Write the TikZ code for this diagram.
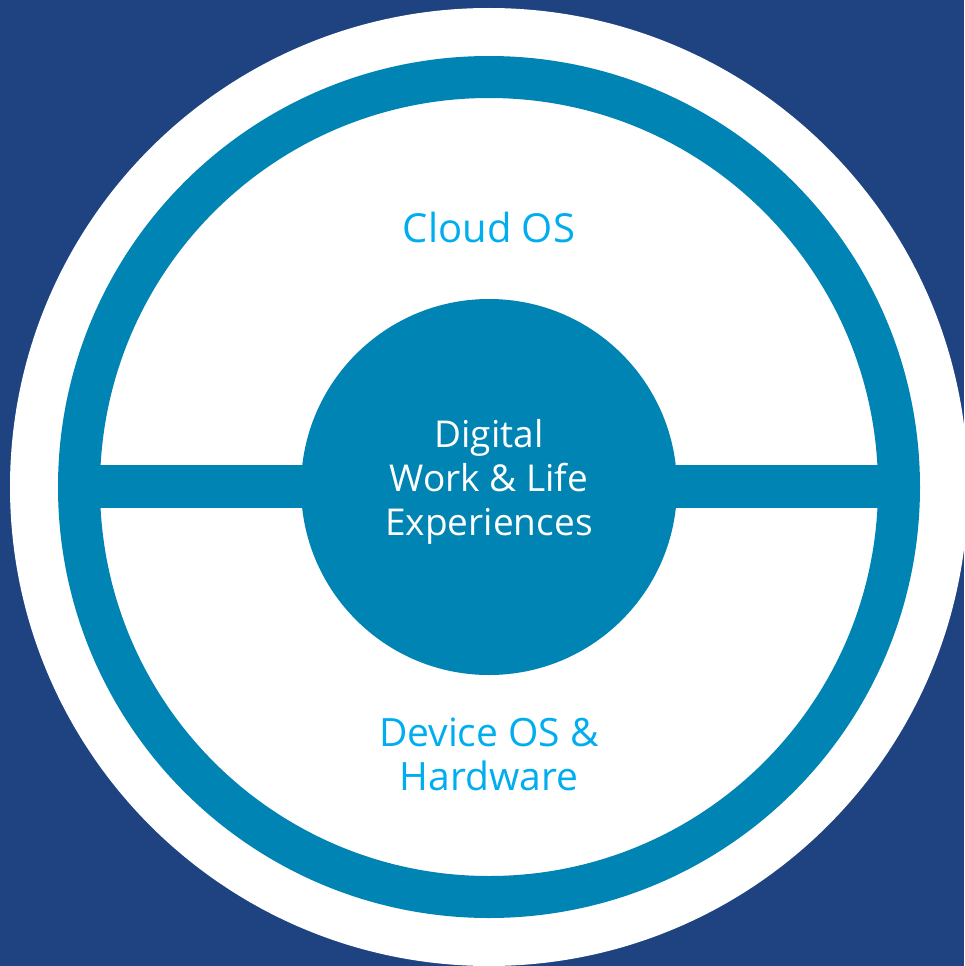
\documentclass[tikz,border=0pt]{standalone}
\usepackage{fontspec}
\setmainfont{Open Sans}
\definecolor{navy}{HTML}{1F4280}
\definecolor{ringblue}{HTML}{0084B4}
\definecolor{cyantext}{HTML}{00ADEF}
\begin{document}
\begin{tikzpicture}[x=1pt,y=-1pt,
  lbl/.style={font=\fontsize{37}{44}\selectfont, align=center, inner sep=0pt}]
\useasboundingbox (0,0) rectangle (964,966);
\fill[navy] (0,0) rectangle (964,966);
\begin{scope}
\clip (0,0) rectangle (964,966);
\fill[white] (489,487) circle[radius=479];
\end{scope}
\draw[ringblue, line width=42pt] (489,487) circle[radius=410];
\fill[ringblue] (95,465) rectangle (883,508);
\node[circle, fill=ringblue, minimum size=376pt, inner sep=0pt] (core) at (489,487) {};
\node[lbl, text=white, anchor=base] (dw) at (489,535) {Digital\\Work \& Life\\Experiences};
\node[lbl, text=cyantext, anchor=base, font=\fontsize{40}{44}\selectfont] (cloud) at (489,242) {Cloud OS};
\node[lbl, text=cyantext, anchor=base, font=\fontsize{39}{44}\selectfont] (dev) at (489,790) {Device OS \&\\Hardware};
\end{tikzpicture}
\end{document}
